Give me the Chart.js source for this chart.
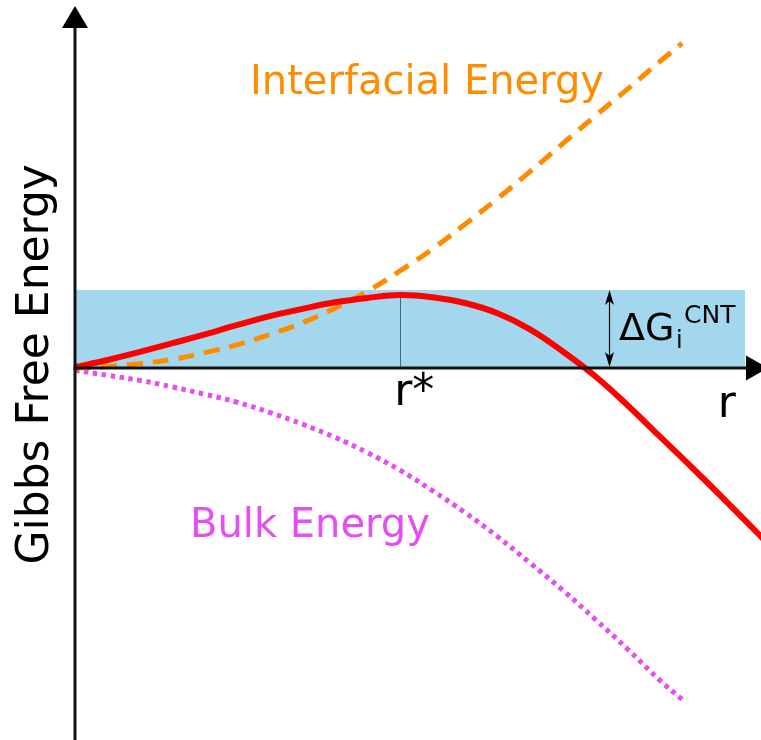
<!DOCTYPE html>
<html><head><meta charset="utf-8">
<script src="https://cdn.jsdelivr.net/npm/chart.js@4.4.1/dist/chart.umd.min.js"></script>
<style>html,body{margin:0;padding:0;background:#fff;overflow:hidden}#wrap{width:761px;height:740px}</style>
</head><body><div id="wrap"><canvas id="c" width="761" height="740"></canvas></div>
<script>
// ---- data (radius r in units of r*, energy in units of the barrier ΔG*) ----
const radius = [0,0.1,0.2,0.3,0.4,0.5,0.6,0.7,0.8,0.9,1.0,1.1,1.2,1.3,1.4,1.5,1.6,1.7,1.8,1.868];
const interfacialEnergy = [0,0.02,0.06,0.12,0.21,0.32,0.46,0.62,0.82,1.05,1.33,1.63,1.97,2.32,2.69,3.07,3.45,3.82,4.20,4.45];
const bulkEnergy = [-0.03,-0.10,-0.17,-0.26,-0.36,-0.47,-0.61,-0.77,-0.95,-1.16,-1.40,-1.68,-1.98,-2.31,-2.67,-3.04,-3.44,-3.85,-4.28,-4.54];
const totalRadius = [0,0.1,0.2,0.3,0.4,0.5,0.6,0.7,0.8,0.9,1.0,1.1,1.2,1.3,1.4,1.5,1.6,1.7,1.8,1.9,2.0,2.1,2.2];
const totalEnergy = [0.01,0.11,0.22,0.34,0.46,0.59,0.71,0.81,0.90,0.96,1.00,0.97,0.89,0.75,0.53,0.23,-0.11,-0.51,-0.94,-1.37,-1.81,-2.26,-2.73];
const criticalRadius = 1.0;        // r*
const barrierEnergy = 1.0;         // ΔG* at r*
const bandTop = 1.068;             // top of shaded band
const bandEnd = 2.0615;            // right end of shaded band
const barrierArrowR = 1.643;       // where the ΔG arrow is drawn
const axisEndR = 2.0646;           // base of x-axis arrow head
const textLabels = ["Interfacial Energy","Bulk Energy","Gibbs Free Energy","r*","r","ΔG","i","CNT"];

const pts = (xs, ys) => xs.map((x,i)=>({x, y: ys[i]}));
const FONT = '"DejaVu Sans", Verdana, sans-serif';

const decor = {
  id: 'decor',
  beforeDatasetsDraw(chart) {
    const ctx = chart.ctx, xs = chart.scales.x, ys = chart.scales.y;
    const X = v => xs.getPixelForValue(v), Y = v => ys.getPixelForValue(v);
    ctx.save();
    ctx.fillStyle = '#a3d7ee';
    ctx.fillRect(X(0), Y(bandTop), X(bandEnd) - X(0), Y(0) - Y(bandTop));
    ctx.strokeStyle = '#4d6676'; ctx.lineWidth = 1;
    ctx.beginPath(); ctx.moveTo(Math.round(X(criticalRadius))+0.5, Y(barrierEnergy)); ctx.lineTo(Math.round(X(criticalRadius))+0.5, Y(0)); ctx.stroke();
    const ax = Math.round(X(barrierArrowR)) + 0.5, t = Y(bandTop), b = Y(0);
    ctx.strokeStyle = '#000'; ctx.fillStyle = '#000'; ctx.lineWidth = 1.2;
    ctx.beginPath(); ctx.moveTo(ax, t + 6); ctx.lineTo(ax, b - 6); ctx.stroke();
    const head = (y0, dir) => {
      ctx.beginPath();
      ctx.moveTo(ax, y0);
      ctx.lineTo(ax - 4.5, y0 + dir*15);
      ctx.lineTo(ax, y0 + dir*11);
      ctx.lineTo(ax + 4.5, y0 + dir*15);
      ctx.closePath(); ctx.fill();
    };
    head(t, 1); head(b - 1, -1);
    ctx.restore();
  },
  afterDatasetsDraw(chart) {
    const ctx = chart.ctx, xs = chart.scales.x, ys = chart.scales.y, a = chart.chartArea;
    const X = v => xs.getPixelForValue(v), Y = v => ys.getPixelForValue(v);
    ctx.save();
    const x0 = X(0), y0 = Y(0);
    ctx.strokeStyle = '#111'; ctx.fillStyle = '#000'; ctx.lineWidth = 3;
    ctx.beginPath(); ctx.moveTo(x0, a.bottom); ctx.lineTo(x0, a.top + 26); ctx.stroke();
    ctx.beginPath(); ctx.moveTo(x0 - 1.5, y0); ctx.lineTo(X(axisEndR), y0); ctx.stroke();
    ctx.beginPath(); ctx.moveTo(x0, a.top + 6); ctx.lineTo(x0 - 13, a.top + 28); ctx.lineTo(x0 + 13, a.top + 28); ctx.closePath(); ctx.fill();
    const ab = X(axisEndR);
    ctx.beginPath(); ctx.moveTo(ab + 22, y0); ctx.lineTo(ab, y0 - 12.5); ctx.lineTo(ab, y0 + 12.5); ctx.closePath(); ctx.fill();
    ctx.textBaseline = 'alphabetic'; ctx.textAlign = 'left';
    ctx.fillStyle = '#ff8c00'; ctx.font = '40px ' + FONT;
    ctx.fillText(textLabels[0], X(0.5385), Y(3.753));
    ctx.fillStyle = '#e34ff0';
    ctx.fillText(textLabels[1], X(0.354), Y(-2.315));
    ctx.fillStyle = '#000'; ctx.font = '44px ' + FONT;
    ctx.fillText(textLabels[3], X(0.982), Y(-0.507));
    ctx.fillText(textLabels[4], X(1.978), Y(-0.671));
    ctx.font = '38px ' + FONT;
    ctx.fillText(textLabels[5], X(1.674), Y(0.384));
    ctx.font = '24px ' + FONT;
    ctx.fillText(textLabels[6], X(1.849), Y(0.274));
    ctx.font = '25px ' + FONT;
    ctx.fillText(textLabels[7], X(1.874), Y(0.616));
    ctx.save();
    ctx.translate(X(-0.0831), Y(0.05));
    ctx.rotate(-Math.PI/2);
    ctx.textAlign = 'center'; ctx.font = '44px ' + FONT;
    ctx.fillText(textLabels[2], 0, 0);
    ctx.restore();
    ctx.restore();
  }
};

new Chart(document.getElementById('c'), {
  type: 'scatter',
  data: {
    datasets: [
      { label: 'Total', data: pts(totalRadius, totalEnergy), showLine: true, borderColor: '#ff0000', borderWidth: 6, pointRadius: 0, tension: 0.4, order: 0, fill: false },
      { label: 'Interfacial Energy', data: pts(radius, interfacialEnergy), showLine: true, borderColor: '#ff8c00', borderWidth: 5, borderDash: [16,10], borderCapStyle: 'butt', pointRadius: 0, tension: 0.4, order: 1, fill: false },
      { label: 'Bulk Energy', data: pts(radius, bulkEnergy), showLine: true, borderColor: '#e34ff0', borderWidth: 5, borderDash: [4.5,4.5], borderCapStyle: 'butt', pointRadius: 0, tension: 0.4, order: 2, fill: false }
    ]
  },
  options: {
    responsive: false, animation: false, devicePixelRatio: 1, events: [],
    layout: { padding: 0 },
    scales: {
      x: { type: 'linear', display: false, min: -75/325, max: 686/325 },
      y: { type: 'linear', display: false, min: -372/73, max: 368/73 }
    },
    plugins: { legend: { display: false }, tooltip: { enabled: false } }
  },
  plugins: [decor]
});
</script></body></html>
